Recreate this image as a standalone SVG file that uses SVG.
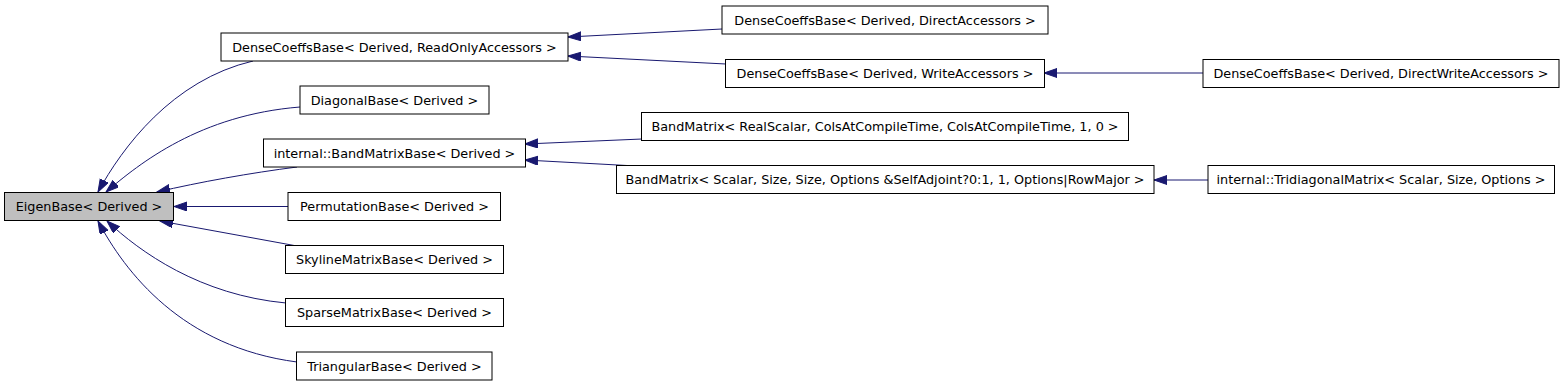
<svg xmlns="http://www.w3.org/2000/svg" width="1565" height="387" viewBox="0 0 1565 387">
<style>
.n rect{fill:#ffffff;stroke:#000000;stroke-width:1}
.n.g rect{fill:#bfbfbf}
.n text{font-family:"DejaVu Sans",sans-serif;font-size:12.8px;fill:#000000;text-anchor:middle}
.e path{fill:none;stroke:#191970;stroke-width:1;marker-start:url(#ah)}
</style>
<defs>
<marker id="ah" markerUnits="userSpaceOnUse" markerWidth="14" markerHeight="10" refX="13" refY="4.5" orient="auto-start-reverse">
<path d="M0,0 L13,4.5 L0,9 z" fill="#191970" stroke="#191970" stroke-width="1"/>
</marker>
</defs>
<rect width="1565" height="387" fill="#ffffff"/>
<g id="connectors" class="e">
<path d="M98,192 C122,148 172,80 253,61"/>
<path d="M106,192 C140,163 200,115 300,107"/>
<path d="M157,192 C200,182 250,173 297,167"/>
<path d="M174,206.5 L288,206.5"/>
<path d="M160,221 L297,246"/>
<path d="M107,221 C140,252 200,295 286,303"/>
<path d="M98,221 C125,272 182,347 297,362"/>
<path d="M568,37 L722,29"/>
<path d="M568,56 L726,64"/>
<path d="M1044,73 L1203,73"/>
<path d="M525,144 L642,139"/>
<path d="M525,160 L627,165.5"/>
<path d="M1154,180 L1208,180"/>
</g>
<g id="eigenbase" class="n g"><rect x="4.5" y="192.5" width="169" height="28"/><text x="89" y="211">EigenBase&lt; Derived &gt;</text></g>
<g id="densecoeffs_ro" class="n"><rect x="221" y="33" width="347" height="28"/><text x="394.5" y="51.5">DenseCoeffsBase&lt; Derived, ReadOnlyAccessors &gt;</text></g>
<g id="diagonalbase" class="n"><rect x="300" y="86" width="189" height="28"/><text x="394.5" y="104.5">DiagonalBase&lt; Derived &gt;</text></g>
<g id="bandmatrixbase" class="n"><rect x="263.5" y="139" width="262" height="28"/><text x="394.5" y="157.5">internal::BandMatrixBase&lt; Derived &gt;</text></g>
<g id="permutationbase" class="n"><rect x="288" y="192.5" width="212.5" height="28"/><text x="394.5" y="211">PermutationBase&lt; Derived &gt;</text></g>
<g id="skylinematrixbase" class="n"><rect x="285.5" y="245.5" width="218" height="28"/><text x="394.5" y="264">SkylineMatrixBase&lt; Derived &gt;</text></g>
<g id="sparsematrixbase" class="n"><rect x="285.5" y="298.5" width="218" height="28"/><text x="394.5" y="317">SparseMatrixBase&lt; Derived &gt;</text></g>
<g id="triangularbase" class="n"><rect x="296.5" y="352" width="195.5" height="28"/><text x="394.5" y="370.5">TriangularBase&lt; Derived &gt;</text></g>
<g id="densecoeffs_direct" class="n"><rect x="722" y="6" width="326" height="28"/><text x="885" y="24.5">DenseCoeffsBase&lt; Derived, DirectAccessors &gt;</text></g>
<g id="densecoeffs_write" class="n"><rect x="725.5" y="59.5" width="319" height="28"/><text x="885" y="78">DenseCoeffsBase&lt; Derived, WriteAccessors &gt;</text></g>
<g id="densecoeffs_directwrite" class="n"><rect x="1203" y="59.5" width="356" height="28"/><text x="1381" y="78">DenseCoeffsBase&lt; Derived, DirectWriteAccessors &gt;</text></g>
<g id="bandmatrix_real" class="n"><rect x="641.5" y="112.5" width="487" height="28"/><text x="885" y="131">BandMatrix&lt; RealScalar, ColsAtCompileTime, ColsAtCompileTime, 1, 0 &gt;</text></g>
<g id="bandmatrix_scalar" class="n"><rect x="616.5" y="165.5" width="537.5" height="28"/><text x="885" y="184">BandMatrix&lt; Scalar, Size, Size, Options &amp;SelfAdjoint?0:1, 1, Options|RowMajor &gt;</text></g>
<g id="tridiagonal" class="n"><rect x="1208" y="165.5" width="346.5" height="28"/><text x="1381" y="184">internal::TridiagonalMatrix&lt; Scalar, Size, Options &gt;</text></g>
</svg>
